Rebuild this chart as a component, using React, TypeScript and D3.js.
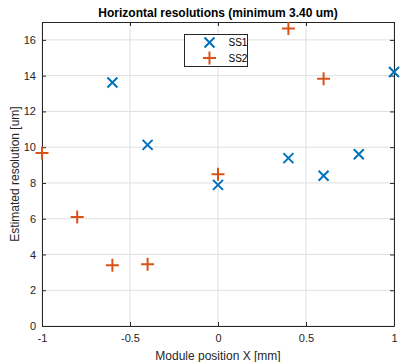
import React, { useEffect, useRef } from "react";
import * as d3 from "d3";

// posiciones de los módulos y resoluciones estimadas
const posSS1 = [-0.6, -0.4, 0, 0.4, 0.6, 0.8, 1];
const resSS1 = [13.62, 10.13, 7.89, 9.39, 8.4, 9.6, 14.2];
const posSS2 = [-1, -0.8, -0.6, -0.4, 0, 0.4, 0.6];
const resSS2 = [9.67, 6.09, 3.4, 3.45, 8.49, 16.63, 13.83];

const xTicks = [-1, -0.5, 0, 0.5, 1];
const yTicks = [0, 2, 4, 6, 8, 10, 12, 14, 16];
const seriesNames = ["SS1", "SS2"];

const BLUE = "#0072BD";
const ORANGE = "#D95319";
const AXIS = "#262626";

const App = () => {
  const ref = useRef<SVGSVGElement>(null);

  useEffect(() => {
    const svg = d3.select(ref.current);
    svg.selectAll("*").remove();

    const width = 400;
    const height = 362;
    const margin = { top: 22, right: 6, bottom: 36, left: 42 };
    const font = "Liberation Sans, Arial, sans-serif";

    const x = d3.scaleLinear().domain([-1, 1]).range([margin.left, width - margin.right]);
    const y = d3.scaleLinear().domain([0, 17]).range([height - margin.bottom, margin.top]);

    svg.attr("width", width).attr("height", height);
    svg.append("rect").attr("width", width).attr("height", height).attr("fill", "#fff");

    // cuadrícula
    const grid = svg.append("g").attr("stroke", "#dfdfdf").attr("stroke-width", 1);
    grid
      .selectAll(".gx")
      .data(xTicks)
      .enter()
      .append("line")
      .attr("x1", (d) => x(d))
      .attr("x2", (d) => x(d))
      .attr("y1", y(0))
      .attr("y2", y(17));
    grid
      .selectAll(".gy")
      .data(yTicks)
      .enter()
      .append("line")
      .attr("x1", x(-1))
      .attr("x2", x(1))
      .attr("y1", (d) => y(d))
      .attr("y2", (d) => y(d));

    // ejes estilo MATLAB (ticks hacia dentro)
    const axB = svg
      .append("g")
      .attr("transform", `translate(0,${y(0)})`)
      .call(d3.axisBottom(x).tickValues(xTicks).tickSizeInner(-4).tickSizeOuter(0).tickPadding(8).tickFormat((d) => String(d)));
    const axL = svg
      .append("g")
      .attr("transform", `translate(${x(-1)},0)`)
      .call(d3.axisLeft(y).tickValues(yTicks).tickSizeInner(-4).tickSizeOuter(0).tickPadding(6));
    const axT = svg
      .append("g")
      .attr("transform", `translate(0,${y(17)})`)
      .call(d3.axisTop(x).tickValues(xTicks).tickSizeInner(-4).tickSizeOuter(0).tickFormat(() => ""));
    const axR = svg
      .append("g")
      .attr("transform", `translate(${x(1)},0)`)
      .call(d3.axisRight(y).tickValues(yTicks).tickSizeInner(-4).tickSizeOuter(0).tickFormat(() => ""));

    [axB, axL, axT, axR].forEach((a) => {
      a.selectAll("path").attr("stroke", AXIS).attr("stroke-width", 1);
      a.selectAll("line").attr("stroke", AXIS);
      a.selectAll("text").attr("fill", AXIS).attr("font-size", "11px").attr("font-family", font);
    });

    const drawX = (g: any, cx: number, cy: number) => {
      const s = 5;
      g.append("path")
        .attr("d", `M${cx - s},${cy - s}L${cx + s},${cy + s}M${cx - s},${cy + s}L${cx + s},${cy - s}`)
        .attr("stroke", BLUE)
        .attr("stroke-width", 2)
        .attr("fill", "none");
    };
    const drawPlus = (g: any, cx: number, cy: number) => {
      const s = 6.5;
      g.append("path")
        .attr("d", `M${cx - s},${cy}L${cx + s},${cy}M${cx},${cy - s}L${cx},${cy + s}`)
        .attr("stroke", ORANGE)
        .attr("stroke-width", 2)
        .attr("fill", "none");
    };

    const marks = svg.append("g");
    posSS1.forEach((p, i) => drawX(marks, x(p), y(resSS1[i])));
    posSS2.forEach((p, i) => drawPlus(marks, x(p), y(resSS2[i])));

    // leyenda
    const leg = svg.append("g").attr("transform", "translate(184.5,34.5)");
    leg.append("rect").attr("width", 63).attr("height", 32).attr("fill", "#fff").attr("stroke", AXIS).attr("stroke-width", 1);
    drawX(leg, 25, 8);
    drawPlus(leg, 25, 23.5);
    leg
      .selectAll(".lt")
      .data(seriesNames)
      .enter()
      .append("text")
      .attr("x", 44)
      .attr("y", (d, i) => 8 + i * 15.5)
      .attr("dy", "0.35em")
      .attr("font-size", "10px")
      .attr("font-family", font)
      .attr("fill", "#000")
      .text((d) => d);

    // títulos
    svg
      .append("text")
      .attr("x", (x(-1) + x(1)) / 2)
      .attr("y", 17)
      .attr("text-anchor", "middle")
      .attr("font-size", "12px")
      .attr("font-weight", "bold")
      .attr("font-family", font)
      .attr("fill", "#000")
      .text("Horizontal resolutions (minimum 3.40 um)");
    svg
      .append("text")
      .attr("x", (x(-1) + x(1)) / 2)
      .attr("y", 360)
      .attr("text-anchor", "middle")
      .attr("font-size", "12px")
      .attr("font-family", font)
      .attr("fill", AXIS)
      .text("Module position X [mm]");
    svg
      .append("text")
      .attr("transform", `translate(19,${(y(0) + y(17)) / 2}) rotate(-90)`)
      .attr("text-anchor", "middle")
      .attr("font-size", "12px")
      .attr("font-family", font)
      .attr("fill", AXIS)
      .text("Estimated resolution [um]");
  }, []);

  return <svg ref={ref} style={{ position: "absolute", left: 0, top: 0, display: "block" }}></svg>;
};

export default App;
